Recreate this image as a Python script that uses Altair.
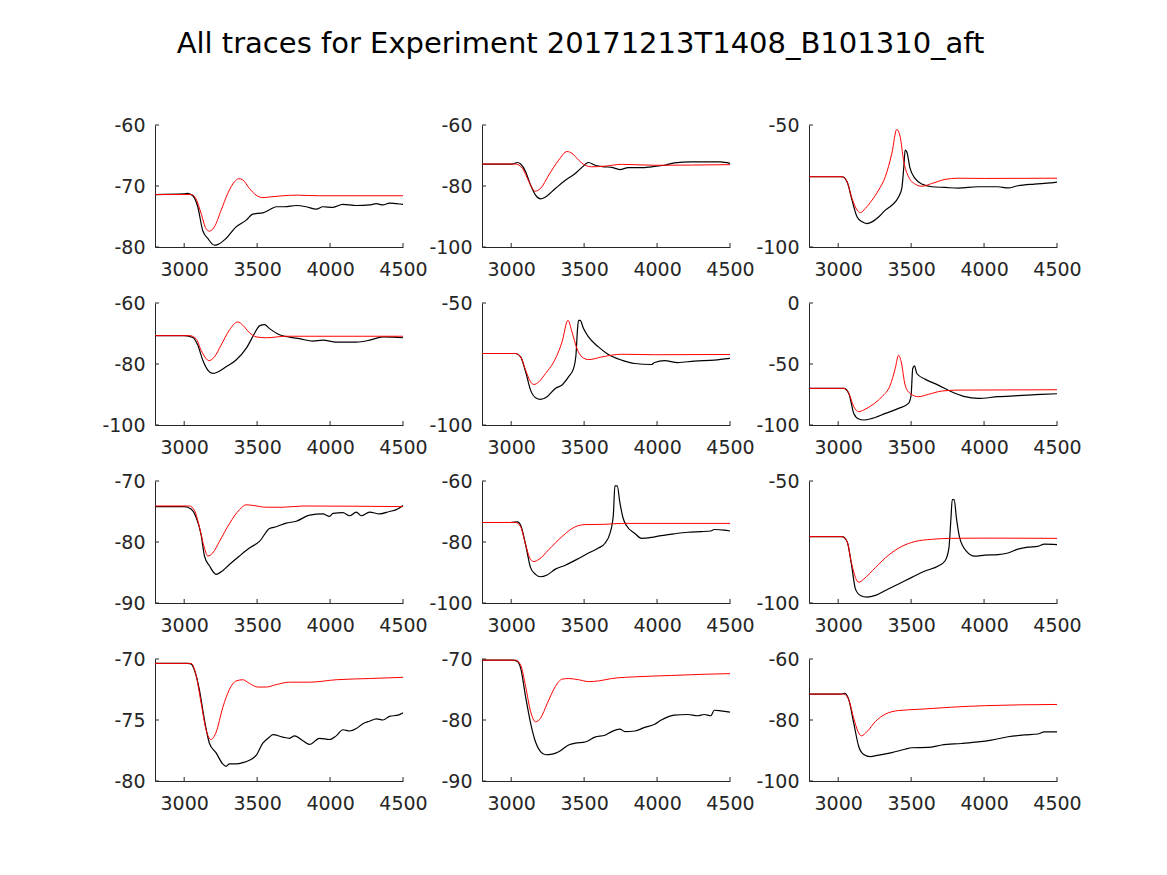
import altair as alt
import pandas as pd

TITLE = "All traces for Experiment 20171213T1408_B101310_aft"
X_DOMAIN = [2800, 4500]
X_TICKS = [3000, 3500, 4000, 4500]

# ---- panel 1 ----
P1_BLACK = [(2800,-71.4),(3001,-71.3),(3024,-71.2),(3059,-71.6),(3093,-73.4),(3127,-77.3),(3162,-78.6),(3207,-79.7),(3230,-79.6),(3287,-78.6),(3356,-76.7),(3425,-75.6),(3470,-74.6),(3539,-74.4),(3585,-73.9),(3631,-73.4),(3688,-73.4),(3768,-73.2),(3837,-73.4),(3905,-73.8),(3951,-73.4),(4020,-73.5),(4088,-73.0),(4180,-73.2),(4271,-73.1),(4317,-72.9),(4363,-73.1),(4408,-72.8),(4454,-72.9),(4500,-73.0)]
P1_RED = [(2800,-71.4),(3047,-71.4),(3081,-72.1),(3116,-74.5),(3150,-77.0),(3173,-77.4),(3207,-76.7),(3253,-74.0),(3299,-71.2),(3345,-69.3),(3374,-68.8),(3402,-69.0),(3447,-70.4),(3493,-71.5),(3539,-71.9),(3585,-71.8),(3676,-71.6),(3768,-71.5),(3928,-71.6),(4500,-71.6)]
# ---- panel 2 ----
P2_BLACK = [(2800,-72.8),(3009,-72.8),(3043,-72.3),(3065,-72.8),(3099,-75.3),(3133,-79.7),(3167,-83.0),(3201,-84.2),(3235,-83.6),(3303,-80.8),(3371,-78.1),(3439,-75.9),(3485,-73.9),(3530,-72.3),(3575,-73.2),(3643,-73.7),(3689,-73.9),(3745,-74.6),(3802,-74.0),(3893,-74.0),(3961,-73.7),(4051,-73.2),(4119,-72.4),(4233,-72.1),(4323,-72.1),(4437,-72.1),(4500,-72.6)]
P2_RED = [(2800,-72.8),(3031,-72.8),(3077,-74.2),(3122,-78.6),(3163,-81.7),(3201,-80.8),(3258,-76.4),(3326,-71.5),(3383,-68.7),(3417,-69.3),(3462,-71.5),(3507,-73.2),(3553,-73.7),(3643,-73.5),(3757,-72.9),(3983,-73.2),(4500,-73.0)]
# ---- panel 3 ----
P3_BLACK = [(2800,-71.2),(3027,-71.2),(3061,-73.3),(3095,-80.8),(3130,-87.7),(3164,-89.7),(3198,-90.4),(3232,-89.7),(3277,-87.7),(3323,-84.9),(3368,-82.9),(3414,-79.5),(3436,-76.0),(3450,-67.1),(3459,-60.3),(3470,-61.0),(3493,-67.8),(3527,-71.9),(3573,-74.2),(3641,-75.3),(3732,-75.6),(3823,-75.9),(3959,-75.3),(4095,-75.3),(4164,-75.8),(4232,-74.9),(4345,-74.2),(4459,-73.7),(4500,-73.4)]
P3_RED = [(2800,-71.2),(3027,-71.2),(3061,-73.3),(3095,-80.1),(3130,-84.9),(3152,-85.9),(3186,-84.2),(3232,-80.8),(3277,-76.7),(3323,-71.2),(3368,-61.6),(3402,-51.8),(3425,-54.8),(3448,-64.4),(3482,-71.2),(3527,-74.2),(3573,-75.1),(3641,-74.0),(3732,-72.3),(3823,-71.8),(4005,-71.9),(4500,-71.8)]
# ---- panel 4 ----
P4_BLACK = [(2800,-70.7),(3001,-70.7),(3059,-71.3),(3093,-73.8),(3127,-78.7),(3162,-82.0),(3196,-83.1),(3230,-82.6),(3287,-80.9),(3356,-78.7),(3425,-74.9),(3482,-70.0),(3516,-67.5),(3550,-67.1),(3585,-68.4),(3653,-70.4),(3722,-71.2),(3791,-71.7),(3882,-72.5),(3951,-72.2),(4042,-72.8),(4180,-72.8),(4271,-72.2),(4363,-71.1),(4431,-71.2),(4500,-71.4)]
P4_RED = [(2800,-70.7),(3036,-70.7),(3081,-71.7),(3116,-75.5),(3150,-78.2),(3168,-78.9),(3207,-77.7),(3253,-73.8),(3310,-68.9),(3367,-66.2),(3402,-67.3),(3447,-69.7),(3493,-71.1),(3562,-71.4),(3699,-70.9),(4500,-70.9)]
# ---- panel 5 ----
P5_BLACK = [(2800,-70.7),(3031,-70.7),(3065,-72.1),(3099,-78.2),(3133,-85.7),(3167,-88.8),(3201,-89.5),(3246,-88.4),(3303,-85.0),(3349,-83.6),(3394,-80.2),(3428,-76.8),(3444,-71.4),(3455,-60.5),(3462,-57.1),(3473,-57.1),(3496,-60.5),(3530,-63.9),(3598,-68.0),(3666,-71.1),(3757,-73.4),(3848,-74.8),(3961,-75.2),(3983,-74.4),(4051,-73.6),(4142,-74.4),(4255,-73.8),(4392,-73.4),(4500,-72.7)]
P5_RED = [(2800,-70.7),(3031,-70.7),(3065,-72.1),(3099,-77.5),(3133,-82.3),(3156,-83.4),(3190,-82.3),(3235,-78.9),(3292,-74.1),(3349,-65.9),(3389,-57.1),(3417,-61.9),(3451,-68.7),(3485,-72.1),(3530,-73.2),(3621,-72.1),(3757,-71.0),(3983,-71.2),(4500,-71.1)]
# ---- panel 6 ----
P6_BLACK = [(2800,-70.0),(3039,-70.0),(3073,-74.1),(3107,-90.5),(3141,-95.1),(3175,-95.9),(3232,-94.6),(3323,-90.5),(3414,-86.4),(3482,-82.3),(3500,-75.5),(3511,-53.7),(3523,-51.5),(3539,-57.8),(3595,-62.4),(3686,-67.3),(3777,-72.8),(3868,-76.8),(3959,-78.2),(4095,-76.8),(4232,-76.0),(4391,-74.9),(4500,-74.4)]
P6_RED = [(2800,-70.0),(3039,-70.0),(3073,-74.1),(3107,-85.0),(3141,-89.1),(3175,-87.7),(3232,-83.7),(3300,-76.8),(3357,-67.3),(3391,-53.7),(3414,-42.8),(3432,-48.2),(3459,-67.3),(3493,-74.1),(3550,-76.8),(3618,-74.9),(3709,-72.2),(3823,-71.4),(4500,-71.1)]
# ---- panel 7 ----
P7_BLACK = [(2800,-74.2),(3001,-74.2),(3047,-74.6),(3081,-75.9),(3116,-78.8),(3139,-82.3),(3173,-83.9),(3219,-85.3),(3264,-84.7),(3310,-83.7),(3379,-82.3),(3447,-81.0),(3516,-79.9),(3585,-77.8),(3631,-77.5),(3699,-76.9),(3768,-76.6),(3859,-75.6),(3951,-75.4),(3997,-75.8),(4020,-75.3),(4088,-75.2),(4134,-75.7),(4180,-75.1),(4214,-75.7),(4271,-75.1),(4340,-75.4),(4408,-75.0),(4454,-74.7),(4500,-74.0)]
P7_RED = [(2800,-74.1),(3036,-74.1),(3070,-74.8),(3104,-77.5),(3139,-81.0),(3162,-82.3),(3196,-81.8),(3242,-79.9),(3310,-77.0),(3379,-74.7),(3425,-73.9),(3470,-74.0),(3562,-74.3),(3676,-74.3),(3814,-74.1),(4500,-74.2)]
# ---- panel 8 ----
P8_BLACK = [(2800,-73.6),(2997,-73.6),(3043,-73.4),(3065,-74.5),(3099,-80.9),(3133,-88.4),(3167,-90.6),(3201,-91.4),(3246,-90.8),(3303,-88.9),(3371,-87.6),(3462,-85.4),(3530,-83.6),(3598,-82.0),(3643,-80.4),(3677,-77.2),(3700,-71.3),(3711,-61.6),(3727,-61.6),(3745,-67.0),(3768,-72.3),(3791,-74.7),(3848,-77.2),(3893,-78.8),(3961,-78.5),(4029,-77.9),(4119,-77.3),(4210,-76.8),(4301,-76.6),(4369,-76.4),(4392,-75.9),(4460,-76.1),(4500,-76.4)]
P8_RED = [(2800,-73.6),(3031,-73.6),(3065,-75.0),(3099,-80.9),(3133,-85.7),(3156,-86.4),(3190,-85.7),(3258,-82.5),(3349,-78.2),(3439,-75.0),(3507,-74.3),(3643,-74.2),(3757,-73.9),(4500,-73.9)]
# ---- panel 9 ----
P9_BLACK = [(2800,-72.8),(3027,-72.8),(3061,-74.8),(3091,-84.2),(3118,-94.2),(3152,-96.9),(3198,-97.6),(3255,-96.9),(3323,-94.9),(3414,-92.2),(3505,-89.5),(3595,-86.9),(3686,-84.8),(3732,-82.8),(3759,-77.5),(3773,-65.4),(3782,-57.6),(3795,-57.6),(3811,-65.4),(3834,-73.5),(3880,-78.8),(3936,-80.8),(4005,-80.4),(4095,-80.2),(4164,-79.5),(4232,-77.9),(4300,-77.1),(4368,-76.8),(4414,-75.9),(4500,-76.1)]
P9_RED = [(2800,-72.8),(3027,-72.8),(3061,-74.8),(3091,-83.5),(3118,-89.5),(3141,-91.5),(3175,-90.2),(3255,-85.5),(3345,-80.4),(3436,-76.8),(3527,-74.8),(3641,-73.9),(3777,-73.5),(4005,-73.4),(4500,-73.5)]
# ---- panel 10 ----
P10_BLACK = [(2800,-70.36),(3024,-70.36),(3047,-70.4),(3070,-70.9),(3104,-72.5),(3139,-75.0),(3173,-76.9),(3219,-77.7),(3264,-78.6),(3287,-78.8),(3310,-78.6),(3356,-78.6),(3402,-78.5),(3447,-78.3),(3493,-77.9),(3539,-76.9),(3585,-76.4),(3608,-76.2),(3676,-76.4),(3722,-76.5),(3757,-76.3),(3814,-76.7),(3859,-77.0),(3928,-76.5),(3997,-76.6),(4042,-76.3),(4088,-75.8),(4134,-75.9),(4180,-75.7),(4225,-75.3),(4271,-75.1),(4317,-74.9),(4363,-75.0),(4408,-74.7),(4466,-74.6),(4500,-74.4)]
P10_RED = [(2800,-70.36),(3047,-70.36),(3081,-71.3),(3116,-73.6),(3150,-75.8),(3184,-76.6),(3219,-76.0),(3264,-74.0),(3310,-72.5),(3356,-71.8),(3402,-71.7),(3447,-72.0),(3505,-72.3),(3562,-72.3),(3631,-72.1),(3722,-71.9),(3859,-71.9),(4042,-71.7),(4271,-71.6),(4500,-71.5)]
# ---- panel 11 ----
P11_BLACK = [(2800,-70.2),(3009,-70.2),(3043,-70.4),(3065,-71.5),(3099,-76.2),(3133,-80.5),(3167,-83.6),(3201,-85.2),(3235,-85.7),(3281,-85.6),(3326,-85.2),(3394,-84.1),(3439,-83.8),(3507,-83.6),(3575,-82.8),(3643,-82.5),(3689,-81.9),(3745,-81.5),(3780,-81.9),(3847,-81.8),(3916,-81.2),(3984,-80.7),(4029,-80.0),(4119,-79.2),(4210,-79.1),(4278,-79.3),(4323,-79.1),(4369,-79.3),(4392,-78.4),(4437,-78.5),(4500,-78.7)]
P11_RED = [(2800,-70.2),(3031,-70.2),(3065,-71.0),(3099,-74.5),(3133,-78.6),(3167,-80.3),(3201,-79.7),(3247,-77.3),(3303,-74.5),(3349,-73.3),(3394,-73.2),(3462,-73.4),(3530,-73.7),(3598,-73.6),(3689,-73.2),(3870,-72.9),(4097,-72.7),(4323,-72.5),(4500,-72.4)]
# ---- panel 12 ----
P12_BLACK = [(2800,-71.5),(3016,-71.5),(3045,-71.3),(3073,-73.4),(3107,-81.1),(3141,-88.7),(3175,-91.3),(3220,-92.0),(3277,-91.5),(3368,-90.7),(3459,-89.6),(3505,-89.1),(3618,-89.0),(3709,-88.2),(3845,-87.7),(3959,-87.2),(4050,-86.6),(4164,-85.5),(4277,-84.9),(4368,-84.6),(4414,-83.9),(4500,-83.9)]
P12_RED = [(2800,-71.5),(3039,-71.5),(3073,-73.4),(3107,-79.5),(3136,-83.8),(3159,-85.2),(3198,-83.8),(3255,-80.5),(3323,-78.1),(3414,-76.9),(3550,-76.5),(3777,-75.8),(4005,-75.3),(4500,-74.9)]

Y_DOMAINS = [[-80,-60],[-100,-60],[-100,-50],
             [-100,-60],[-100,-50],[-100,0],
             [-90,-70],[-100,-60],[-100,-50],
             [-80,-70],[-90,-70],[-100,-60]]
Y_TICKS = [[-80,-70,-60],[-100,-80,-60],[-100,-50],
           [-100,-80,-60],[-100,-50],[-100,-50,0],
           [-90,-80,-70],[-100,-80,-60],[-100,-50],
           [-80,-75,-70],[-90,-80,-70],[-100,-80,-60]]

BLACKS = [P1_BLACK,P2_BLACK,P3_BLACK,P4_BLACK,P5_BLACK,P6_BLACK,
          P7_BLACK,P8_BLACK,P9_BLACK,P10_BLACK,P11_BLACK,P12_BLACK]
REDS = [P1_RED,P2_RED,P3_RED,P4_RED,P5_RED,P6_RED,
        P7_RED,P8_RED,P9_RED,P10_RED,P11_RED,P12_RED]

W, H = 248, 122
FONT = "DejaVu Sans"
AX = "#262626"
LABEL_EXPR = "toString(datum.value)"


def panel(i):
    black = pd.DataFrame(BLACKS[i], columns=["x", "y"])
    red = pd.DataFrame(REDS[i], columns=["x", "y"])
    xt = pd.DataFrame({"x": X_TICKS})
    yt = pd.DataFrame({"y": Y_TICKS[i]})
    X = alt.X("x:Q", title=None,
              scale=alt.Scale(domain=X_DOMAIN, nice=False, zero=False),
              axis=alt.Axis(values=X_TICKS, ticks=False, grid=False, labelFontSize=19,
                            labelFont=FONT, labelColor=AX, domainColor=AX,
                            labelPadding=13, labelFlush=False, labelOverlap=False,
                            labelExpr=LABEL_EXPR))
    Y = alt.Y("y:Q", title=None,
              scale=alt.Scale(domain=Y_DOMAINS[i], nice=False, zero=False),
              axis=alt.Axis(values=Y_TICKS[i], ticks=False, grid=False, labelFontSize=19,
                            labelFont=FONT, labelColor=AX, domainColor=AX,
                            labelPadding=10, labelFlush=False, labelOverlap=False,
                            labelExpr=LABEL_EXPR))
    lb = alt.Chart(black).mark_line(color="#000000", strokeWidth=1.2, interpolate="monotone").encode(x=X, y=Y)
    lr = alt.Chart(red).mark_line(color="#ff0000", strokeWidth=1, interpolate="monotone").encode(x=X, y=Y)
    tx = alt.Chart(xt).mark_rule(color=AX, strokeWidth=1).encode(x=X, y=alt.value(H), y2=alt.value(H - 4))
    ty = alt.Chart(yt).mark_rule(color=AX, strokeWidth=1).encode(y=Y, x=alt.value(0), x2=alt.value(4))
    return alt.layer(lb, lr, tx, ty).properties(width=W, height=H)


chart = alt.concat(*[panel(i) for i in range(12)], columns=3,
                   spacing={"row": 56, "column": 79}, bounds="flush").properties(
    title=alt.TitleParams(TITLE, fontSize=29, font=FONT, fontWeight="normal", color="#000000",
                          anchor="middle", offset=57, dx=-11),
    padding={"left": 93, "top": 22, "right": 5, "bottom": 5},
    background="white",
).configure_view(stroke=None)

chart.save("out.html", embed_options={"renderer": "svg", "actions": False})
